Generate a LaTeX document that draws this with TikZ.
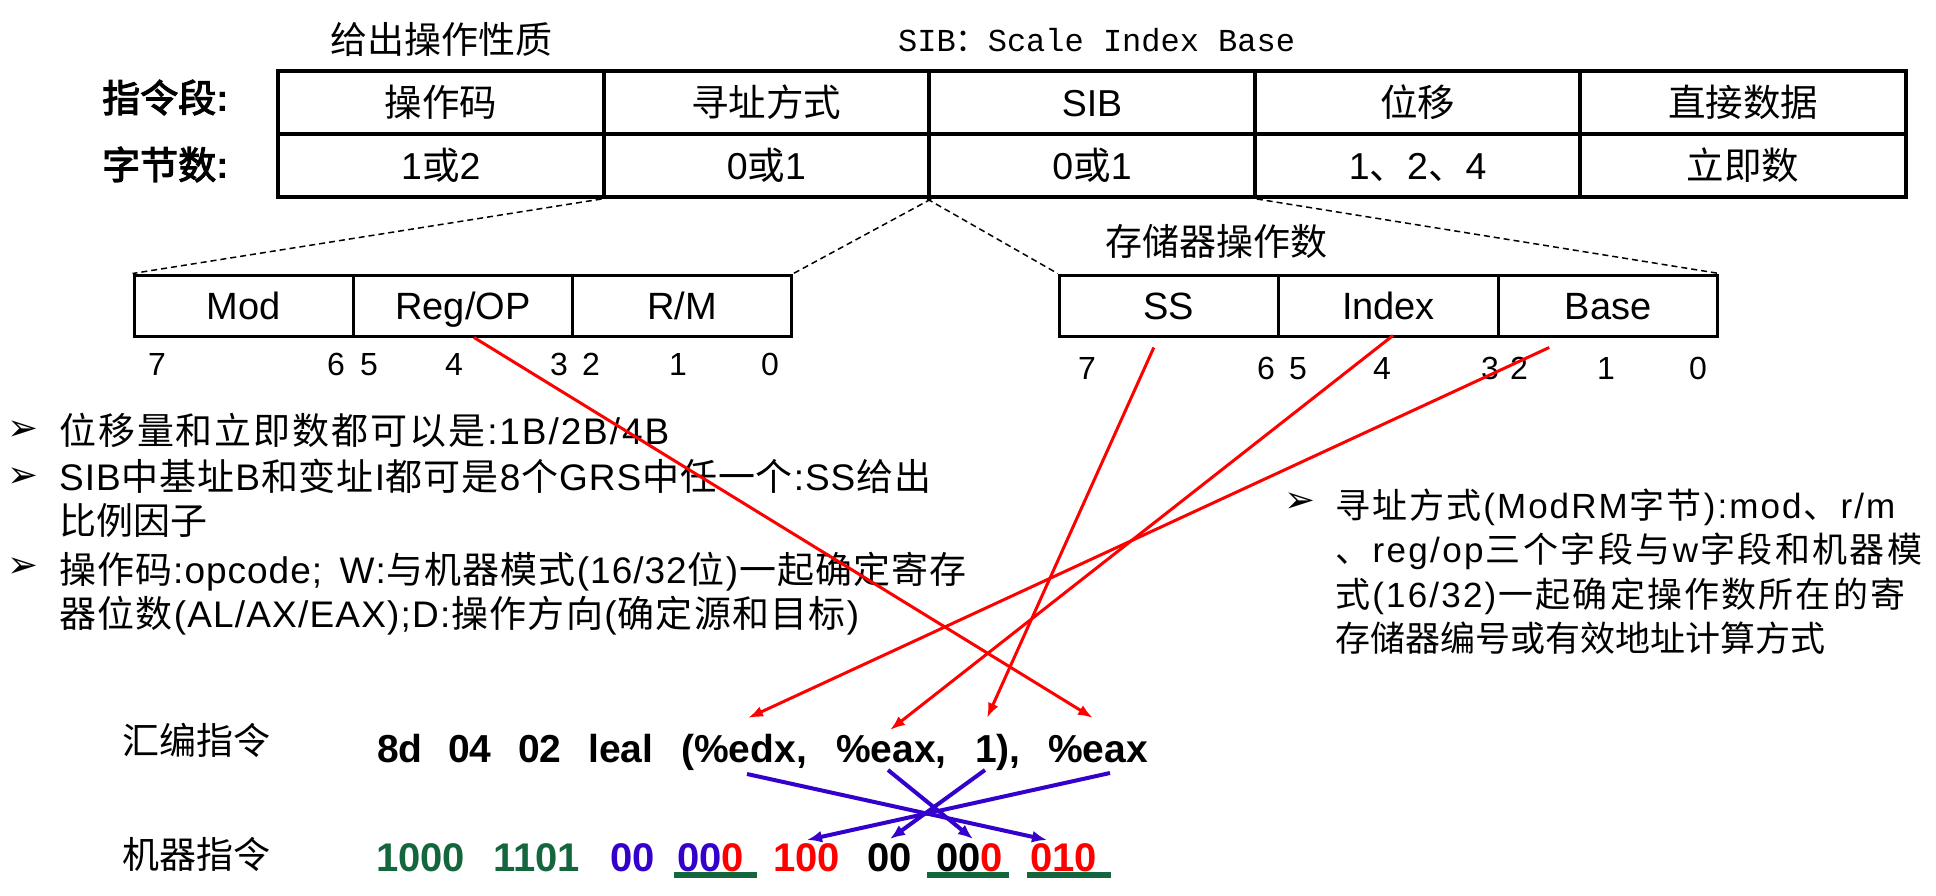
\documentclass[tikz,border=0pt]{standalone}
\usepackage{fontspec}
\setmainfont{Liberation Sans}
\newfontfamily\cjk{Noto Sans CJK SC}[BoldFont={Noto Sans CJK SC},BoldFeatures={FakeBold=3}]
\newfontfamily\mono{Liberation Mono}
\newfontfamily\dejavu{DejaVu Sans}
\usetikzlibrary{arrows.meta,calc}
\let\zhfam\cjk
\newcommand\jg{\hskip0pt plus 1pt\relax}
\makeatletter
\newcommand\zh[1]{{\zhfam\@tfor\zz:=#1\do{\zz\jg}}}
\newcommand\la[1]{\@tfor\zz:=#1\do{\zz\jg}}
\makeatother
\newcommand\fs[1]{\fontsize{#1}{#1}\selectfont}
\definecolor{myred}{RGB}{255,0,0}
\definecolor{myblue}{RGB}{51,0,204}
\definecolor{mygreen}{RGB}{20,102,60}
\begin{document}
\begin{tikzpicture}[x=1pt,y=-1pt,
  cell/.style={draw, line width=4pt, minimum width=325.6pt, minimum height=63pt, inner sep=0pt, text height=33pt, text depth=5pt, font=\fs{37.5}},
  fieldbox/.style={draw, line width=3pt, minimum width=219.3pt, minimum height=61pt, inner sep=0pt, text height=32pt, text depth=5pt, font=\fs{38}},
  bitnum/.style={anchor=base, inner sep=0pt, font=\fs{32}},
  title/.style={anchor=base, inner sep=0pt, font=\fs{37}},
  rowlabel/.style={anchor=base west, inner sep=0pt, font=\fs{38}\bfseries},
  lbullet/.style={anchor=base west, inner sep=0pt, font=\fs{37}},
  rbullet/.style={anchor=base west, inner sep=0pt, font=\fs{35}},
  bulletmark/.style={anchor=center, inner sep=0pt, font=\dejavu\fs{37}},
  asm/.style={anchor=base west, inner sep=0pt, font=\fs{39}\bfseries},
  bin/.style={anchor=base west, inner sep=0pt, font=\fs{40}\bfseries},
  dashline/.style={dashed, dash pattern=on 6pt off 4pt, line width=1.5pt},
  redarrow/.style={draw=myred, line width=3pt, -{Latex[length=15pt,width=11pt]}},
  bluearrow/.style={draw=myblue, line width=4pt, -{Latex[length=15pt,width=12pt]}},
  uline/.style={draw=mygreen, line width=6pt}
]
\useasboundingbox (0,0) rectangle (1936,896);

% titles
\node[title] (t1) at (441,54) {\zh{给出操作性质}};
\node[anchor=base west, inner sep=0pt, font=\mono\fs{32}] (t2) at (898,52) {SIB\zh{：}Scale Index Base};

% row labels
\node[rowlabel] (l1) at (102,112) {\zh{指令段}:};
\node[rowlabel] (l2) at (102,179) {\zh{字节数}:};

% table
\node[cell] (c11) at (440.8,102.5) {\zh{操作码}};
\node[cell] (c12) at (766.4,102.5) {\zh{寻址方式}};
\node[cell] (c13) at (1092,102.5) {SIB};
\node[cell] (c14) at (1417.6,102.5) {\zh{位移}};
\node[cell] (c15) at (1743.2,102.5) {\zh{直接数据}};
\node[cell] (c21) at (440.8,165.5) {1\zh{或}2};
\node[cell] (c22) at (766.4,165.5) {0\zh{或}1};
\node[cell] (c23) at (1092,165.5) {0\zh{或}1};
\node[cell] (c24) at (1417.6,165.5) {1\zh{、}2\zh{、}4};
\node[cell] (c25) at (1743.2,165.5) {\zh{立即数}};

% ModRM box
\node[fieldbox] (mod) at (243.7,305.5) {Mod};
\node[fieldbox] (regop) at (463,305.5) {Reg/OP};
\node[fieldbox] (rm) at (682.3,305.5) {R/M};
% SIB box
\node[title] (t3) at (1216,255) {\zh{存储器操作数}};
\node[fieldbox] (ss) at (1168.8,305.5) {SS};
\node[fieldbox] (idx) at (1388.5,305.5) {Index};
\node[fieldbox] (base) at (1608.2,305.5) {Base};

% dashed expansion lines
\draw[dashline] (c22.south west) -- (mod.north west);
\draw[dashline] (c22.south east) -- (rm.north east);
\draw[dashline] (c23.south west) -- (ss.north west);
\draw[dashline] (c23.south east) -- (base.north east);

% bit numbers
\node[bitnum] (m7) at (157,375) {7};
\node[bitnum] (m6) at (336,375) {6};
\node[bitnum] (m5) at (369,375) {5};
\node[bitnum] (m4) at (454,375) {4};
\node[bitnum] (m3) at (559,375) {3};
\node[bitnum] (m2) at (591,375) {2};
\node[bitnum] (m1) at (678,375) {1};
\node[bitnum] (m0) at (770,375) {0};
\node[bitnum] (s7) at (1087,379) {7};
\node[bitnum] (s6) at (1266,379) {6};
\node[bitnum] (s5) at (1298,379) {5};
\node[bitnum] (s4) at (1382,379) {4};
\node[bitnum] (s3) at (1490,379) {3};
\node[bitnum] (s2) at (1519,379) {2};
\node[bitnum] (s1) at (1606,379) {1};
\node[bitnum] (s0) at (1698,379) {0};

% left bullets
\node[bulletmark] (bm1) at (23.5,431) {➢};
\node[lbullet] (bl1) at (59,444) {\hbox to 610pt{\zh{位移量和立即数都可以是}\la{:1B/2B/4B}\unskip}};
\node[bulletmark] (bm2) at (23.5,478) {➢};
\node[lbullet] (bl2) at (59,490) {\hbox to 872pt{\la{SIB}\zh{中基址}\la{B}\zh{和变址}\la{I}\zh{都可是}\la{8}\zh{个}\la{GRS}\zh{中任一个}\la{:SS}\zh{给出}\unskip}};
\node[lbullet] (bl3) at (59,534) {\zh{比例因子}};
\node[bulletmark] (bm3) at (23.5,568) {➢};
\node[lbullet] (bl4) at (59,583) {\hbox to 907pt{\zh{操作码}\la{:opcode;}\ \jg\la{W:}\zh{与机器模式}\la{(16/32}\zh{位}\la{)}\zh{一起确定寄存}\unskip}};
\node[lbullet] (bl5) at (59,627) {\hbox to 800pt{\zh{器位数}\la{(AL/AX/EAX);D:}\zh{操作方向}\la{(}\zh{确定源和目标}\la{)}\unskip}};

% right bullets
\node[bulletmark] (bm4) at (1300,503) {➢};
\node[rbullet] (br1) at (1335,518) {\hbox to 560pt{\zh{寻址方式}\la{(ModRM}\zh{字节}\la{):mod}\zh{、}\la{r/m}\unskip}};
\node[rbullet] (br2) at (1335,562) {\hbox to 587pt{\zh{、}\la{reg/op}\zh{三个字段与}\la{w}\zh{字段和机器模}\unskip}};
\node[rbullet] (br3) at (1335,607) {\hbox to 570pt{\zh{式}\la{(16/32)}\zh{一起确定操作数所在的寄}\unskip}};
\node[rbullet] (br4) at (1335,651) {\zh{存储器编号或有效地址计算方式}};

% assembly line
\node[anchor=base west, inner sep=0pt, font=\fs{37}] (asml) at (122,754) {\zh{汇编指令}};
\node[asm] (a1) at (377,762) {8d};
\node[asm] (a2) at (448,762) {04};
\node[asm] (a3) at (518,762) {02};
\node[asm] (a4) at (588,762) {leal};
\node[asm] (a5) at (681,762) {(\%edx,};
\node[asm] (a6) at (836,762) {\%eax,};
\node[asm] (a7) at (975,762) {1),};
\node[asm] (a8) at (1048,762) {\%eax};

% machine line
\node[anchor=base west, inner sep=0pt, font=\fs{37}] (binl) at (122,868) {\zh{机器指令}};
\node[bin, text=mygreen] (b1) at (376,871) {1000};
\node[bin, text=mygreen] (b2) at (493,871) {1101};
\node[bin, text=myblue] (b3) at (610,871) {00};
\node[bin] (b4) at (677,871) {\textcolor{myblue}{00}\textcolor{myred}{0}};
\node[bin, text=myred] (b5) at (773,871) {100};
\node[bin, text=black] (b6) at (867,871) {00};
\node[bin] (b7) at (936,871) {00\textcolor{myred}{0}};
\node[bin, text=myred] (b8) at (1030,871) {010};

% underlines
\draw[uline] ([shift={(-3,3)}]b4.south west) -- ([shift={(13,3)}]b4.south east);
\draw[uline] ([shift={(-9,3)}]b7.south west) -- ([shift={(6,3)}]b7.south east);
\draw[uline] ([shift={(-3,3)}]b8.south west) -- ([shift={(14,3)}]b8.south east);

% arrow end points
\coordinate (tEdx) at (748,718);
\coordinate (tEaxA) at (890,730);
\coordinate (tOne) at (987,718);
\coordinate (tEaxB) at (1093,718);
\coordinate (sEdx) at (747,774);
\coordinate (sEaxA) at (888,770);
\coordinate (sOne) at (985,770);
\coordinate (sEaxB) at (1110,773);
\coordinate (tBase) at (1047,840);
\coordinate (tIdx) at (973,839);
\coordinate (tSS) at (890,839);
\coordinate (tRM) at (807,840);

% red arrows
\draw[redarrow] ([shift={(11,0)}]regop.south) -- (tEaxB);
\draw[redarrow] ([shift={(-15,10)}]ss.south) -- (tOne);
\draw[redarrow] ([shift={(4.5,-2)}]idx.south) -- (tEaxA);
\draw[redarrow] ([shift={(-59,10)}]base.south) -- (tEdx);

% blue arrows
\draw[bluearrow] (sEdx) -- (tBase);
\draw[bluearrow] (sEaxA) -- (tIdx);
\draw[bluearrow] (sOne) -- (tSS);
\draw[bluearrow] (sEaxB) -- (tRM);
\end{tikzpicture}
\end{document}
